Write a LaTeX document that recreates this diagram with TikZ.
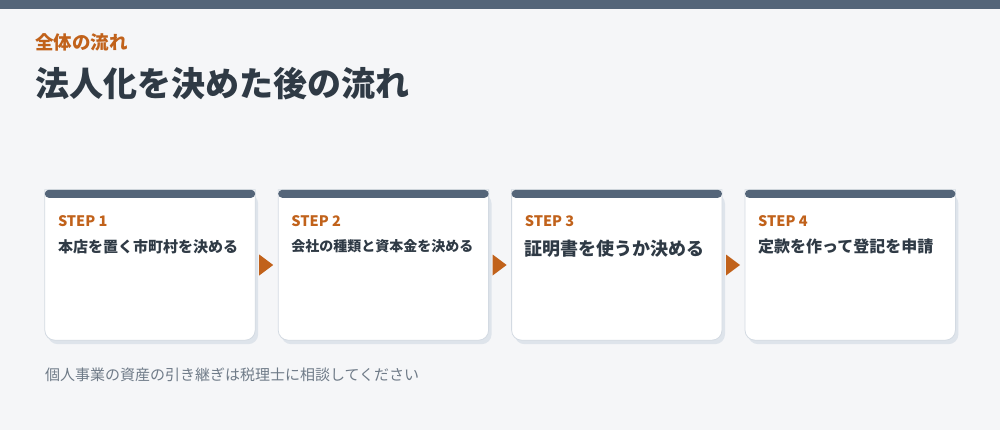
\documentclass[tikz,border=0pt]{standalone}
\usepackage{fontspec}
\setmainfont{Noto Sans CJK JP}
\usetikzlibrary{positioning}
\definecolor{pagebg}{HTML}{F5F6F8}
\definecolor{slate}{HTML}{546579}
\definecolor{accent}{HTML}{C1621B}
\definecolor{ink}{HTML}{2F3A45}
\definecolor{muted}{HTML}{6F7B88}
\definecolor{cardedge}{HTML}{D3DAE2}
\definecolor{cardshade}{HTML}{DEE4EB}

\begin{document}
\begin{tikzpicture}[x=1pt, y=-1pt,
    card/.style={minimum width=210pt, minimum height=150pt, inner sep=0pt},
    steplbl/.style={anchor=base west, inner sep=0pt, text=accent, font=\bfseries\fontsize{14.5}{16}\selectfont},
    stepbody/.style={anchor=west, inner sep=0pt, text=ink}]
  \useasboundingbox (0,0) rectangle (1000,430);
  \fill[pagebg] (0,0) rectangle (1000,430);
  \fill[slate] (0,0) rectangle (1000,9);
  % heading
  \node[anchor=west, inner sep=0pt, text=accent, font=\bfseries\fontsize{18.5}{21}\selectfont] (kicker) at (35,42.5) {全体の流れ};
  \node[anchor=west, inner sep=0pt, text=ink, font=\bfseries\fontsize{34}{38}\selectfont] (title) at (35,84) {法人化を決めた後の流れ};
  % cards
  \node[card] (c1) at (150,265) {};
  \node[card, right=23pt of c1] (c2) {};
  \node[card, right=23pt of c2] (c3) {};
  \node[card, right=23pt of c3] (c4) {};
  \foreach \c in {c1,c2,c3,c4} {
    \fill[cardshade, rounded corners=10pt] ([shift={(3,4)}]\c.north west) rectangle ([shift={(3,4)}]\c.south east);
    \filldraw[fill=white, draw=cardedge, line width=0.8pt] (\c.north west) [rounded corners=10pt] -- (\c.south west) -- (\c.south east) [sharp corners] -- (\c.north east) -- cycle;
    \fill[slate, rounded corners=4pt] (\c.north west) rectangle ([yshift=-8pt]\c.north east);
  }
  % arrows between steps
  \foreach \a/\b in {c1/c2,c2/c3,c3/c4}
    \fill[accent] ([xshift=4pt,yshift=10.5pt]\a.east) -- ([xshift=18pt]\a.east) -- ([xshift=4pt,yshift=-10.5pt]\a.east) -- cycle;
  % step texts
  \foreach \c/\n/\t/\s/\dy in {c1/1/本店を置く市町村を決める/15/56.5, c2/2/会社の種類と資本金を決める/14/56.5, c3/3/証明書を使うか決める/18/58.5, c4/4/定款を作って登記を申請/16/56.5} {
    \node[steplbl] (lbl\n) at ([xshift=13pt,yshift=-37pt]\c.north west) {STEP \n};
    \node[stepbody, font=\bfseries\fontsize{\s}{\s}\selectfont] (txt\n) at ([xshift=13pt,yshift=-\dy pt]\c.north west) {\t};
  }
  \node[anchor=west, inner sep=0pt, text=muted, font=\fontsize{15}{18}\selectfont] (note) at (c1.west |- 0,375) {個人事業の資産の引き継ぎは税理士に相談してください};
\end{tikzpicture}
\end{document}
